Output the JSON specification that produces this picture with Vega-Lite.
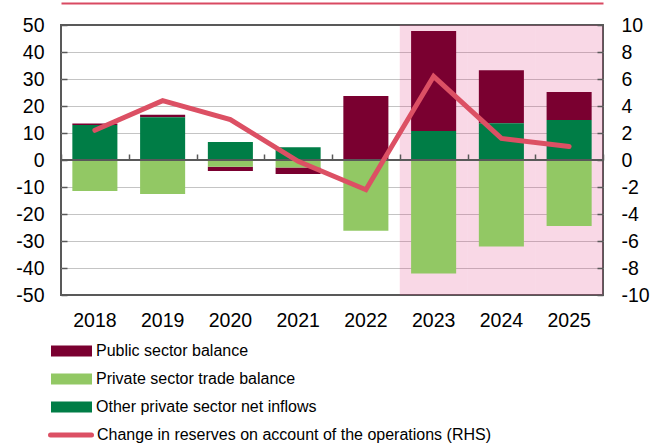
{
  "$schema": "https://vega.github.io/schema/vega-lite/v6.json",
  "width": 542,
  "height": 270,
  "autosize": "none",
  "padding": {"left": 61, "top": 25, "right": 48, "bottom": 149},
  "background": "white",
  "config": {
    "view": {"stroke": "#595959", "strokeWidth": 2},
    "font": "Liberation Sans"
  },
  "datasets": {
    "bars": [
      {"year": "2018", "series": "Public sector balance", "value": 0.5},
      {"year": "2018", "series": "Private sector trade balance", "value": -11.5},
      {"year": "2018", "series": "Other private sector net inflows", "value": 13.0},
      {"year": "2019", "series": "Public sector balance", "value": 1.0},
      {"year": "2019", "series": "Private sector trade balance", "value": -12.6},
      {"year": "2019", "series": "Other private sector net inflows", "value": 15.8},
      {"year": "2020", "series": "Public sector balance", "value": -1.6},
      {"year": "2020", "series": "Private sector trade balance", "value": -2.5},
      {"year": "2020", "series": "Other private sector net inflows", "value": 6.7},
      {"year": "2021", "series": "Public sector balance", "value": -2.4},
      {"year": "2021", "series": "Private sector trade balance", "value": -2.8},
      {"year": "2021", "series": "Other private sector net inflows", "value": 4.7},
      {"year": "2022", "series": "Public sector balance", "value": 23.7},
      {"year": "2022", "series": "Private sector trade balance", "value": -26.2},
      {"year": "2022", "series": "Other private sector net inflows", "value": 0},
      {"year": "2023", "series": "Public sector balance", "value": 37.1},
      {"year": "2023", "series": "Private sector trade balance", "value": -42.0},
      {"year": "2023", "series": "Other private sector net inflows", "value": 10.7},
      {"year": "2024", "series": "Public sector balance", "value": 19.6},
      {"year": "2024", "series": "Private sector trade balance", "value": -32.0},
      {"year": "2024", "series": "Other private sector net inflows", "value": 13.6},
      {"year": "2025", "series": "Public sector balance", "value": 10.4},
      {"year": "2025", "series": "Private sector trade balance", "value": -24.4},
      {"year": "2025", "series": "Other private sector net inflows", "value": 14.8}
    ],
    "line": [
      {"year": "2018", "series": "Change in reserves on account of the operations (RHS)", "reserves": 2.2},
      {"year": "2019", "series": "Change in reserves on account of the operations (RHS)", "reserves": 4.4},
      {"year": "2020", "series": "Change in reserves on account of the operations (RHS)", "reserves": 3.0},
      {"year": "2021", "series": "Change in reserves on account of the operations (RHS)", "reserves": -0.1},
      {"year": "2022", "series": "Change in reserves on account of the operations (RHS)", "reserves": -2.2},
      {"year": "2023", "series": "Change in reserves on account of the operations (RHS)", "reserves": 6.2},
      {"year": "2024", "series": "Change in reserves on account of the operations (RHS)", "reserves": 1.6},
      {"year": "2025", "series": "Change in reserves on account of the operations (RHS)", "reserves": 1.0}
    ],
    "shade": [
      {"year": "2023", "period": "forecast"},
      {"year": "2024", "period": "forecast"},
      {"year": "2025", "period": "forecast"}
    ]
  },
  "layer": [
    {
      "data": {"name": "shade"},
      "mark": {"type": "rect", "color": "#e13c82", "opacity": 0.2},
      "encoding": {
        "x": {
          "field": "year", "type": "ordinal",
          "scale": {"type": "band", "paddingInner": 0, "paddingOuter": 0},
          "axis": {"orient": "top", "offset": 22, "domain": true, "domainColor": "#d94a62", "domainWidth": 2, "ticks": false, "labels": false, "grid": false, "title": null, "zindex": 1}
        }
      }
    },
    {
      "data": {"name": "bars"},
      "mark": {"type": "bar", "width": {"band": 0.665}},
      "encoding": {
        "x": {
          "field": "year", "type": "ordinal",
          "axis": {"orient": "bottom", "domain": false, "ticks": false, "labelAngle": 0, "labelPadding": 16, "labelFont": "Liberation Sans", "labelFontSize": 19.5, "labelColor": "#000000", "title": null, "grid": false, "zindex": 1}
        },
        "y": {
          "field": "value", "type": "quantitative", "stack": "zero",
          "scale": {"domain": [-50, 50], "nice": false},
          "axis": {"orient": "left", "values": [-50, -40, -30, -20, -10, 0, 10, 20, 30, 40, 50], "labelExpr": "'' + datum.value", "domain": false, "grid": false, "ticks": true, "tickSize": -6, "tickColor": "#595959", "tickWidth": 1.5, "labelPadding": 23, "labelFont": "Liberation Sans", "labelFontSize": 19.5, "labelColor": "#000000", "title": null, "zindex": 1}
        },
        "color": {
          "field": "series", "type": "nominal",
          "scale": {"domain": ["Public sector balance", "Private sector trade balance", "Other private sector net inflows"], "range": ["#7a0030", "#92c864", "#007d46"]},
          "legend": {"orient": "none", "legendX": -10, "legendY": 312, "title": null, "direction": "vertical", "symbolType": "M-1,-0.27H1V0.27H-1Z", "symbolSize": 1681, "symbolStrokeWidth": 0, "clipHeight": 28, "rowPadding": 0, "padding": 0, "labelOffset": 4, "labelFont": "Liberation Sans", "labelFontSize": 16, "labelColor": "#000000", "labelLimit": 600}
        },
        "order": {"field": "series", "sort": "ascending"}
      }
    },
    {
      "data": {"values": [{"baseline": 0}]},
      "mark": {"type": "rule", "color": "#595959", "strokeWidth": 2},
      "encoding": {
        "y": {
          "field": "baseline", "type": "quantitative",
          "scale": {"domain": [-50, 50], "nice": false},
          "axis": {"orient": "left", "values": [-40, -30, -20, -10, 10, 20, 30, 40], "grid": true, "gridColor": "#c4c4c4", "gridWidth": 1, "domain": false, "ticks": false, "labels": false, "title": null, "zindex": 0}
        }
      }
    },
    {
      "data": {"name": "line"},
      "mark": {"type": "line", "strokeWidth": 5, "strokeCap": "round", "strokeJoin": "miter"},
      "encoding": {
        "x": {
          "field": "year", "type": "ordinal",
          "axis": {"orient": "top", "offset": -135, "domain": false, "ticks": true, "tickBand": "extent", "tickSize": 6, "tickColor": "#595959", "tickWidth": 1.5, "labels": false, "grid": false, "title": null, "zindex": 1}
        },
        "y": {
          "field": "reserves", "type": "quantitative",
          "scale": {"domain": [-10, 10], "nice": false},
          "axis": {"orient": "right", "values": [-10, -8, -6, -4, -2, 0, 2, 4, 6, 8, 10], "labelExpr": "'' + datum.value", "domain": false, "grid": false, "ticks": true, "tickSize": -6, "tickColor": "#595959", "tickWidth": 1.5, "labelPadding": 24, "labelAlign": "left", "labelFont": "Liberation Sans", "labelFontSize": 19.5, "labelColor": "#000000", "title": null, "zindex": 1}
        },
        "stroke": {
          "field": "series", "type": "nominal",
          "scale": {"range": ["#dc5064"]},
          "legend": {"orient": "none", "legendX": -13, "legendY": 396, "title": null, "symbolType": "stroke", "symbolSize": 1681, "symbolStrokeWidth": 5, "clipHeight": 28, "rowPadding": 0, "padding": 0, "labelOffset": 3, "labelFont": "Liberation Sans", "labelFontSize": 16, "labelColor": "#000000", "labelLimit": 600, "encode": {"symbols": {"update": {"strokeCap": {"value": "round"}}}}}
        }
      }
    }
  ],
  "resolve": {
    "scale": {"y": "independent"},
    "axis": {"x": "independent", "y": "independent"}
  }
}
